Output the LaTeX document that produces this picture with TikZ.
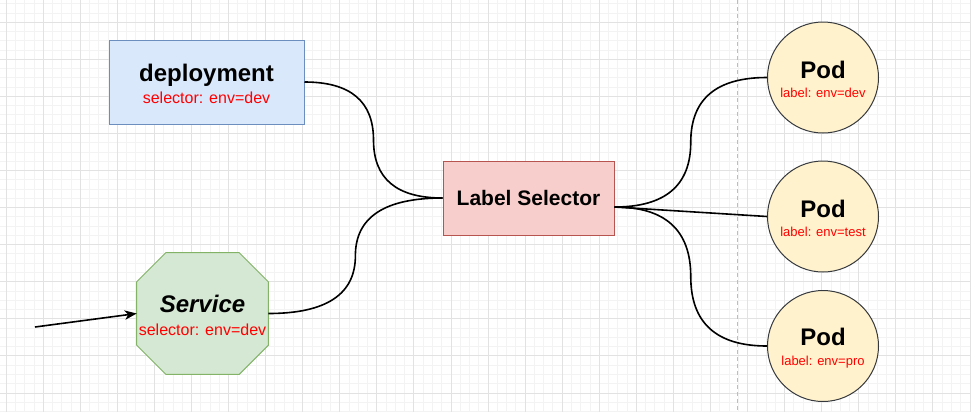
\documentclass[tikz,border=0pt]{standalone}
\usepackage{fontspec}
\setmainfont{Liberation Sans}
\usetikzlibrary{calc,arrows.meta}
\definecolor{depfill}{HTML}{DAE8FC}\definecolor{depline}{HTML}{6C8EBF}
\definecolor{svcfill}{HTML}{D5E8D4}\definecolor{svcline}{HTML}{82B366}
\definecolor{lsfill}{HTML}{F8CECC}\definecolor{lsline}{HTML}{B85450}
\definecolor{podfill}{HTML}{FFF2CC}\definecolor{podline}{HTML}{36393D}
\definecolor{txtred}{HTML}{FF0000}
\definecolor{gridminor}{HTML}{F3F3F3}\definecolor{gridmajor}{HTML}{E2E2E2}
\definecolor{dashgray}{HTML}{BDBDBD}
\tikzset{
  minorgrid/.style={draw=gridminor,line width=0.75pt},
  majorgrid/.style={draw=gridmajor,line width=0.75pt},
  depbox/.style={draw=depline,fill=depfill,line width=0.75pt,minimum width=146.25pt,minimum height=63pt,inner sep=0pt,align=center,font=\fontsize{12}{16.3}\selectfont},
  lsbox/.style={draw=lsline,fill=lsfill,line width=0.75pt,minimum width=128.25pt,minimum height=55.5pt,inner sep=0pt,align=center,font=\fontsize{15.75}{18}\selectfont\bfseries},
  podbox/.style={circle,draw=podline,fill=podfill,line width=0.75pt,minimum size=83.25pt,inner sep=0pt,align=center,font=\fontsize{9.75}{14.8}\selectfont},
  svcframe/.style={minimum width=98.25pt,minimum height=90.75pt,inner sep=0pt},
  svcshape/.style={draw=svcline,fill=svcfill,line width=0.75pt},
  svctxt/.style={align=center,inner sep=0pt,font=\fontsize{12}{17.25}\selectfont},
  conn/.style={draw=black,line width=1.2pt},
  curvy/.style={to path={let \p1=(\tikztostart), \p2=(\tikztotarget) in
     .. controls ({\x1+(\x2-\x1)/3},\y1) and ({(\x1+\x2)/2},{(\y1+\y2)/2-(\y2-\y1)/3})
     .. ({(\x1+\x2)/2},{(\y1+\y2)/2})
     .. controls ({(\x1+\x2)/2},{(\y1+\y2)/2+(\y2-\y1)/3}) and ({\x2-(\x2-\x1)/3},\y2)
     .. (\p2)}}
}
\newcommand{\podtitle}{\rule{0pt}{16pt}{\fontsize{18}{16}\selectfont\bfseries Pod}}
\begin{document}
\begin{tikzpicture}[x=0.75pt,y=-0.75pt]
\useasboundingbox (0,0) rectangle (971,412);
\fill[white] (0,0) rectangle (971,412);
\begin{scope}
\clip (0,0) rectangle (971,412);
\foreach \i in {-1,...,105}{
  \draw[minorgrid] ({6.2+9.2675*\i},0) -- ({6.2+9.2675*\i},412);}
\foreach \j in {-3,...,43}{
  \draw[minorgrid] (0,{22.3+9.2675*\j}) -- (971,{22.3+9.2675*\j});}
\foreach \i in {0,...,26}{
  \draw[majorgrid] ({6.2+37.07*\i},0) -- ({6.2+37.07*\i},412);}
\foreach \j in {-1,...,11}{
  \draw[majorgrid] (0,{22.3+37.07*\j}) -- (971,{22.3+37.07*\j});}
\end{scope}
\draw[dashgray,line width=0.75pt,dash pattern=on 3pt off 2.25pt] (737.3,0) -- (737.3,412);

% deployment
\node[depbox] (dep) at (206.5,82) {\rule{0pt}{15.5pt}{\fontsize{18}{16.3}\selectfont\bfseries deployment}\\{\color{txtred}selector: env=dev}};

% service octagon
\node[svcframe] (svc) at (202.5,313.5) {};
\path[svcshape] ([xshift=21.75pt]svc.north west) -- ([xshift=-21.75pt]svc.north east)
  -- ([yshift=-21.75pt]svc.north east) -- ([yshift=21.75pt]svc.south east)
  -- ([xshift=-21.75pt]svc.south east) -- ([xshift=21.75pt]svc.south west)
  -- ([yshift=21.75pt]svc.south west) -- ([yshift=-21.75pt]svc.north west) -- cycle;
\node[svctxt] (svctext) at ([yshift=-1.25pt]svc.center) {{\fontsize{18}{17.25}\selectfont\bfseries\itshape Service}\\{\color{txtred}selector: env=dev}};

% label selector
\node[lsbox] (ls) at (528.5,198) {Label Selector};

% pods
\node[podbox] (pod1) at (823,77.5) {\podtitle\\{\color{txtred}label: env=dev}};
\node[podbox] (pod2) at (823,216.5) {\podtitle\\{\color{txtred}label: env=test}};
\node[podbox] (pod3) at (823,346) {\podtitle\\{\color{txtred}label: env=pro}};

% connectors
\coordinate (src) at (35,327);
\coordinate (lsout) at ($(ls.east)+(0,9)$);
\draw[conn,-{Stealth[length=9pt,width=7pt,inset=2.5pt]}] (src) -- (svc.west);
\draw[conn] (dep.east) to[curvy] (ls.west);
\draw[conn] (svc.east) to[curvy] (ls.west);
\draw[conn] (lsout) to[curvy] (pod1.west);
\draw[conn] (lsout) -- (pod2.west);
\draw[conn] (lsout) to[curvy] (pod3.west);
\end{tikzpicture}
\end{document}
